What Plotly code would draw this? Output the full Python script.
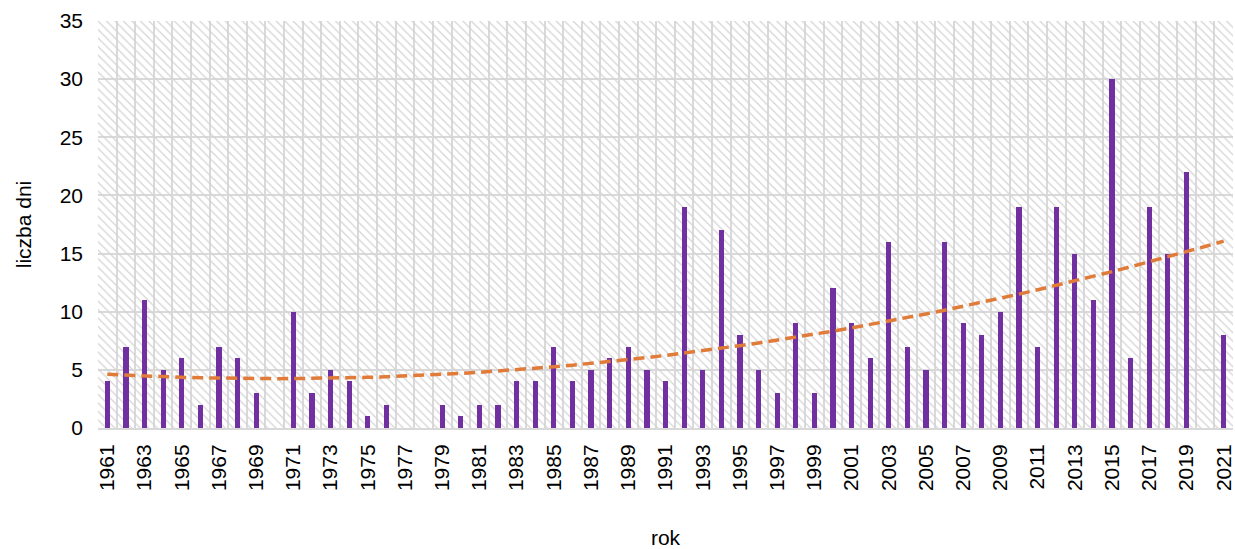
import numpy as np
import plotly.graph_objects as go

years = list(range(1961, 2022))
days = [4, 7, 11, 5, 6, 2, 7, 6, 3, 0,
        10, 3, 5, 4, 1, 2, 0, 0, 2, 1,
        2, 2, 4, 4, 7, 4, 5, 6, 7, 5,
        4, 19, 5, 17, 8, 5, 3, 9, 3, 12,
        9, 6, 16, 7, 5, 16, 9, 8, 10, 19,
        7, 19, 15, 11, 30, 6, 19, 15, 22, 0,
        8]
tick_years = list(range(1961, 2022, 2))
y_ticks = [0, 5, 10, 15, 20, 25, 30, 35]

# polynomial (order 2) trend fitted to the data, as in the source chart
coef = np.polyfit(np.array(years, dtype=float), np.array(days, dtype=float), 2)
trend = np.polyval(coef, np.array(years, dtype=float))

FONT = "Liberation Sans, Arial, sans-serif"
GRID = "#d9d9d9"

fig = go.Figure()

# hatched plot-area background
fig.add_trace(go.Bar(
    x=[(years[0] + years[-1]) / 2], y=[y_ticks[-1]], width=[len(years)],
    marker=dict(color="#d3d3d3", line=dict(width=0),
                pattern=dict(shape="\\", size=6, solidity=0.2, fillmode="replace")),
    hoverinfo="skip", showlegend=False,
))

fig.add_trace(go.Bar(
    x=years, y=days, width=0.28,
    marker=dict(color="#7030A0", line=dict(width=0)),
    showlegend=False,
))

fig.add_trace(go.Scatter(
    x=years, y=trend, mode="lines",
    line=dict(color="#E07B39", width=3.5, dash="11px,6px"),
    showlegend=False,
))

fig.update_layout(
    width=1235, height=549,
    margin=dict(l=98, r=0, t=21, b=121),
    paper_bgcolor="white", plot_bgcolor="white",
    barmode="overlay", bargap=0,
    font=dict(family=FONT, size=21, color="#000000"),
)

fig.update_xaxes(
    range=[years[0] - 0.5, years[-1] + 0.5],
    tickmode="array", tickvals=tick_years, ticktext=[str(t) for t in tick_years],
    tickangle=-90, ticks="", showgrid=False,
    minor=dict(tick0=years[0] - 0.5, dtick=1, showgrid=True, gridcolor=GRID, gridwidth=2, ticks=""),
    showline=True, linecolor=GRID, linewidth=2,
    ticklabelstandoff=6, ticklabeloverflow="allow",
    title=dict(text="rok", standoff=42, font=dict(size=21)),
    zeroline=False,
)
fig.update_yaxes(
    range=[0, 35], tickvals=y_ticks, showgrid=True, gridcolor=GRID, gridwidth=2,
    zeroline=False, ticks="", ticklabelstandoff=14,
    title=dict(text="liczba dni", standoff=22, font=dict(size=21)),
)

fig.write_html("out.html", config={"displayModeBar": False},
               post_script="document.body.style.margin='0';document.body.style.padding='0';")
